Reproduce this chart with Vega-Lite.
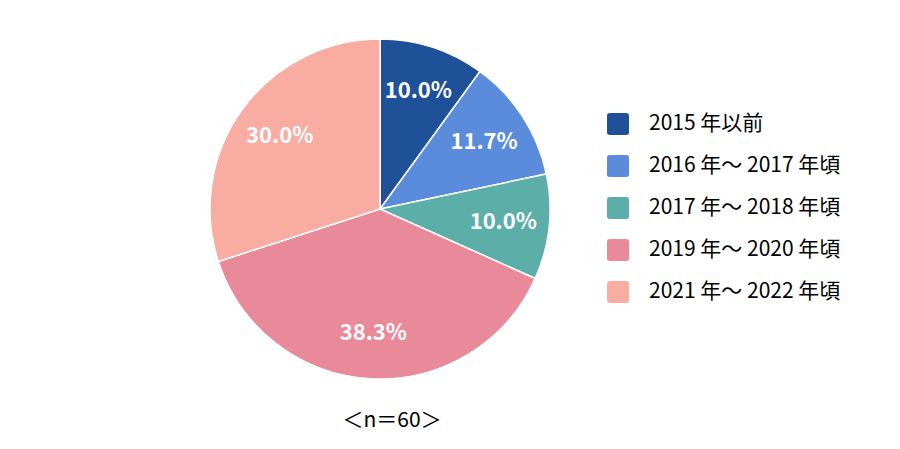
{
  "$schema": "https://vega.github.io/schema/vega-lite/v6.json",
  "width": 340,
  "height": 340,
  "padding": {"left": 207, "top": 36, "right": 0, "bottom": 12},
  "background": "white",
  "title": {
    "text": "＜n＝60＞",
    "orient": "bottom",
    "anchor": "middle",
    "offset": 28,
    "font": "Noto Sans CJK JP",
    "fontSize": 21,
    "fontWeight": "normal",
    "color": "#000000",
    "dx": 12
  },
  "config": {
    "view": {"stroke": null},
    "font": "Noto Sans CJK JP"
  },
  "data": {
    "values": [
      {"cat": "2015 年以前", "order": 1, "pct": 10.0, "label": "10.0%"},
      {"cat": "2016 年～ 2017 年頃", "order": 2, "pct": 11.7, "label": "11.7%"},
      {"cat": "2017 年～ 2018 年頃", "order": 3, "pct": 10.0, "label": "10.0%"},
      {"cat": "2019 年～ 2020 年頃", "order": 4, "pct": 38.3, "label": "38.3%"},
      {"cat": "2021 年～ 2022 年頃", "order": 5, "pct": 30.0, "label": "30.0%"}
    ]
  },
  "encoding": {
    "theta": {"field": "pct", "type": "quantitative", "stack": true},
    "order": {"field": "order", "type": "quantitative"}
  },
  "layer": [
    {
      "mark": {"type": "arc", "outerRadius": 170, "stroke": "white", "strokeWidth": 1.5},
      "encoding": {
        "color": {
          "field": "cat",
          "type": "nominal",
          "sort": ["2015 年以前", "2016 年～ 2017 年頃", "2017 年～ 2018 年頃", "2019 年～ 2020 年頃", "2021 年～ 2022 年頃"],
          "scale": {
            "domain": ["2015 年以前", "2016 年～ 2017 年頃", "2017 年～ 2018 年頃", "2019 年～ 2020 年頃", "2021 年～ 2022 年頃"],
            "range": ["#1F5199", "#5B8CDB", "#5BAFA8", "#E98A9A", "#F9ACA2"]
          },
          "legend": {
            "title": null,
            "orient": "none",
            "legendX": 397,
            "legendY": 74,
            "symbolType": "M-0.75,-1H0.75Q1,-1 1,-0.75V0.75Q1,1 0.75,1H-0.75Q-1,1 -1,0.75V-0.75Q-1,-1 -0.75,-1Z",
            "symbolSize": 484,
            "symbolStrokeWidth": 0,
            "symbolOpacity": 1,
            "labelFont": "Noto Sans CJK JP",
            "labelFontSize": 21,
            "labelColor": "#000000",
            "labelOffset": 20,
            "rowPadding": 20,
            "labelLimit": 400
          }
        }
      }
    },
    {
      "mark": {
        "type": "text",
        "radius": 124,
        "fontSize": 22,
        "fontWeight": "bold",
        "fill": "white",
        "font": "Noto Sans CJK JP"
      },
      "encoding": {
        "text": {"field": "label", "type": "nominal"}
      }
    }
  ]
}
